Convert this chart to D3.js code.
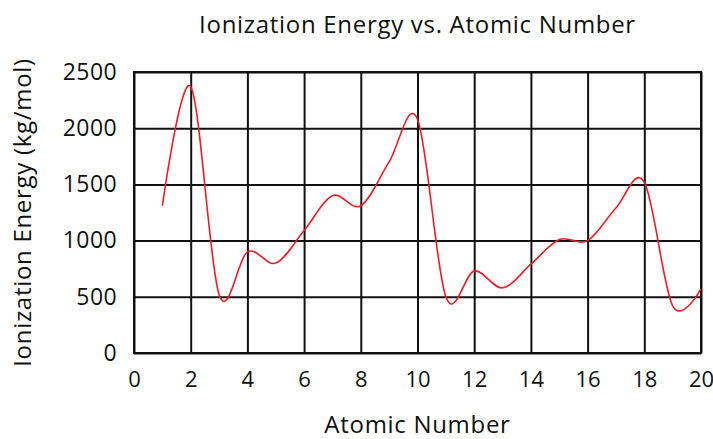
<!DOCTYPE html>
<html lang="en">
<head>
    <meta charset="UTF-8">
    <title>Ionization Energy vs. Atomic Number</title>
    <script src="https://cdn.jsdelivr.net/npm/d3@7"></script>
    <style>
        body { margin: 0; background: #fff; }
        text { font-family: "Open Sans", Lato, sans-serif; fill: #111; }
    </style>
</head>
<body>
<svg width="713" height="439"></svg>

<script>

    // atomic numbers and first ionization energies
    var atomicNumbers = [1, 2, 3, 4, 5, 6, 7, 8, 9, 10, 11, 12, 13, 14, 15, 16, 17, 18, 19, 20];
    var energies = [1310, 2370, 520, 900, 800, 1090, 1400, 1310, 1700, 2080,
                    500, 730, 580, 790, 1010, 1000, 1290, 1520, 420, 570];
    var xTicks = [0, 2, 4, 6, 8, 10, 12, 14, 16, 18, 20];
    var yTicks = [0, 500, 1000, 1500, 2000, 2500];

    var svg = d3.select("svg"),
        margin = {top: 72, right: 12, bottom: 86, left: 134},
        width = +svg.attr("width") - margin.left - margin.right,
        height = +svg.attr("height") - margin.top - margin.bottom;

    var x = d3.scaleLinear().domain([0, 20]).range([0, width]);
    var y = d3.scaleLinear().domain([0, 2500]).range([height, 0]);

    var g = svg.append("g")
        .attr("transform", "translate(" + margin.left + "," + margin.top + ")");

    // grid
    g.append("g")
        .attr("class", "grid")
        .call(d3.axisBottom(x).tickValues(xTicks).tickSize(height).tickFormat(""))
        .call(function (s) { s.select(".domain").remove(); })
        .selectAll("line")
        .attr("stroke", "#111")
        .attr("stroke-width", 2);

    g.append("g")
        .attr("class", "grid")
        .call(d3.axisLeft(y).tickValues(yTicks).tickSize(-width).tickFormat(""))
        .call(function (s) { s.select(".domain").remove(); })
        .selectAll("line")
        .attr("stroke", "#111")
        .attr("stroke-width", 2);

    g.append("rect")
        .attr("width", width)
        .attr("height", height)
        .attr("fill", "none")
        .attr("stroke", "#111")
        .attr("stroke-width", 2);

    // tick labels
    var xAxis = g.append("g")
        .attr("transform", "translate(0," + height + ")")
        .call(d3.axisBottom(x).tickValues(xTicks).tickSize(0).tickPadding(18).tickFormat(d3.format("d")));
    xAxis.select(".domain").remove();
    xAxis.selectAll("text").style("font-size", "22px");

    var yAxis = g.append("g")
        .call(d3.axisLeft(y).tickValues(yTicks).tickSize(0).tickPadding(17).tickFormat(d3.format("d")));
    yAxis.select(".domain").remove();
    yAxis.selectAll("text").style("font-size", "23px").style("letter-spacing", "0.4px");

    // curve
    var line = d3.line()
        .x(function (d, i) { return x(atomicNumbers[i]); })
        .y(function (d) { return y(d); })
        .curve(d3.curveCardinal.tension(0));

    g.append("path")
        .datum(energies)
        .attr("d", line)
        .attr("fill", "none")
        .attr("stroke", "#ee1c24")
        .attr("stroke-width", 1.6);

    // titles
    svg.append("text")
        .attr("x", margin.left + width / 2)
        .attr("y", 33)
        .attr("text-anchor", "middle")
        .style("font-size", "24px")
        .style("letter-spacing", "0.7px")
        .text("Ionization Energy vs. Atomic Number");

    svg.append("text")
        .attr("x", margin.left + width / 2)
        .attr("y", 433)
        .attr("text-anchor", "middle")
        .style("font-size", "24px")
        .style("letter-spacing", "0.7px")
        .text("Atomic Number");

    svg.append("text")
        .attr("transform", "translate(31," + (margin.top + height / 2) + ") rotate(-90)")
        .attr("text-anchor", "middle")
        .style("font-size", "24px")
        .style("letter-spacing", "0.7px")
        .text("Ionization Energy (kg/mol)");

</script>
</body>
</html>
